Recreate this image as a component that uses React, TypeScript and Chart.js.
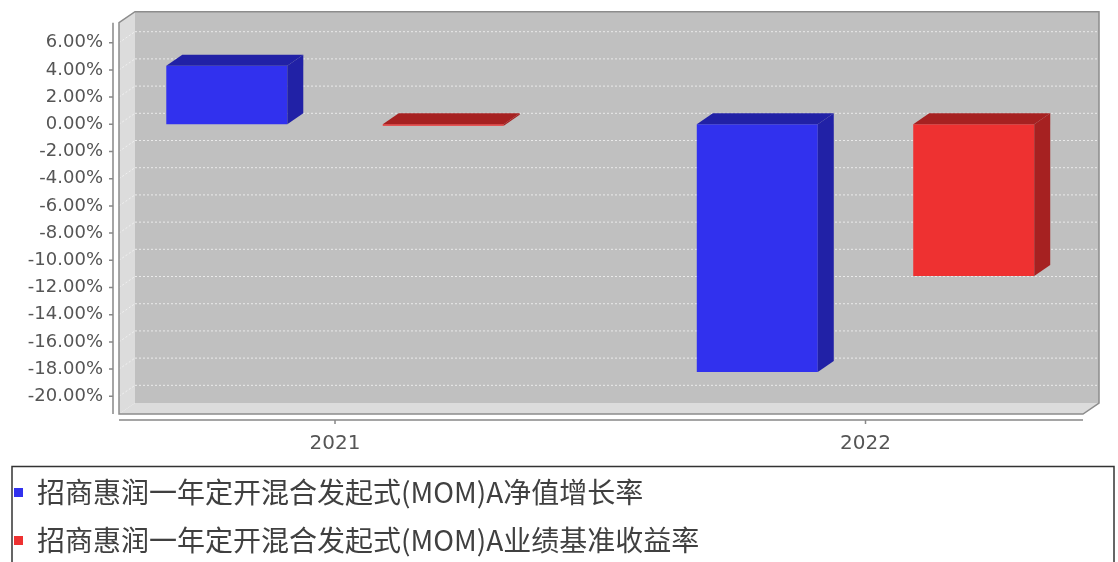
import React, { useEffect, useRef } from 'react';
import { Chart, registerables } from 'chart.js';

Chart.register(...registerables);

// ---- data ----
const categories = ['2021', '2022'];
const navGrowthRate = [4.31, -18.21];
const benchmarkRate = [-0.1, -11.16];
const seriesNames = [
  '招商惠润一年定开混合发起式(MOM)A净值增长率',
  '招商惠润一年定开混合发起式(MOM)A业绩基准收益率',
];
const yTickValues = [-20, -18, -16, -14, -12, -10, -8, -6, -4, -2, 0, 2, 4, 6];

// ---- style ----
const DX = 16;
const DY = 11;
const FRONT_COLORS = ['#3131ee', '#ee3131'];
const SIDE_COLORS = ['#2121a6', '#a62121'];

function poly(ctx: CanvasRenderingContext2D, pts: number[][]) {
  ctx.beginPath();
  ctx.moveTo(pts[0][0], pts[0][1]);
  for (let i = 1; i < pts.length; i++) ctx.lineTo(pts[i][0], pts[i][1]);
  ctx.closePath();
}

const threeDPlugin = {
  id: 'threeD',
  beforeDraw(chart: any) {
    const { ctx } = chart;
    const { left: L, right: R, top: T, bottom: B } = chart.chartArea;
    ctx.save();
    // back wall
    ctx.fillStyle = '#c0c0c0';
    ctx.fillRect(L + DX, T - DY, R - L, B - T);
    // left wall
    ctx.fillStyle = '#dcdcdc';
    poly(ctx, [[L, T], [L + DX, T - DY], [L + DX, B - DY], [L, B]]);
    ctx.fill();
    // floor
    poly(ctx, [[L, B], [L + DX, B - DY], [R + DX, B - DY], [R, B]]);
    ctx.fill();
    // gridlines
    const ys = chart.scales.y;
    ctx.setLineDash([2, 2]);
    ctx.lineWidth = 1;
    ys.ticks.forEach((t: any) => {
      const py = ys.getPixelForValue(t.value);
      ctx.strokeStyle = 'rgba(255,255,255,0.55)';
      ctx.beginPath();
      ctx.moveTo(L, py);
      ctx.lineTo(L + DX, py - DY);
      ctx.stroke();
      ctx.strokeStyle = 'rgba(238,238,238,0.9)';
      ctx.beginPath();
      ctx.moveTo(L + DX, py - DY);
      ctx.lineTo(R + DX, py - DY);
      ctx.stroke();
    });
    ctx.setLineDash([]);
    // outline
    ctx.strokeStyle = '#8c8c8c';
    ctx.lineWidth = 1.5;
    poly(ctx, [[L, T], [L + DX, T - DY], [R + DX, T - DY], [R + DX, B - DY], [R, B], [L, B]]);
    ctx.stroke();
    ctx.restore();
  },
  afterDatasetsDraw(chart: any) {
    const { ctx } = chart;
    ctx.save();
    chart.data.datasets.forEach((ds: any, di: number) => {
      const meta = chart.getDatasetMeta(di);
      meta.data.forEach((el: any) => {
        const { x, y, base, width } = el.getProps(['x', 'y', 'base', 'width'], true);
        const l = x - width / 2;
        const r = x + width / 2;
        const top = Math.min(y, base);
        const bot = Math.max(y, base);
        ctx.fillStyle = ds.sideColor;
        poly(ctx, [[l, top], [l + DX, top - DY], [r + DX, top - DY], [r, top]]);
        ctx.fill();
        poly(ctx, [[r, top], [r + DX, top - DY], [r + DX, bot - DY], [r, bot]]);
        ctx.fill();
      });
    });
    ctx.restore();
  },
  afterDraw(chart: any) {
    const { ctx } = chart;
    const { left: L, right: R, top: T, bottom: B } = chart.chartArea;
    ctx.save();
    ctx.strokeStyle = '#888888';
    ctx.lineWidth = 1.5;
    // y axis line + ticks
    const ax = L - 6;
    ctx.beginPath();
    ctx.moveTo(ax, T);
    ctx.lineTo(ax, B);
    const ys = chart.scales.y;
    ys.ticks.forEach((t: any) => {
      const py = ys.getPixelForValue(t.value);
      ctx.moveTo(ax - 4, py);
      ctx.lineTo(ax, py);
    });
    ctx.stroke();
    // x axis line + ticks
    const ay = B + 6;
    const xs = chart.scales.x;
    ctx.beginPath();
    ctx.moveTo(L, ay);
    ctx.lineTo(R, ay);
    xs.ticks.forEach((t: any) => {
      const px = xs.getPixelForValue(t.value);
      ctx.moveTo(px, ay);
      ctx.lineTo(px, ay + 4);
    });
    ctx.stroke();
    // legend frame
    const lg = chart.legend;
    if (lg) {
      ctx.strokeStyle = '#333333';
      ctx.lineWidth = 1.5;
      ctx.strokeRect(12, lg.top + 8, 1102, 200);
    }
    ctx.restore();
  },
};

export default function App() {
  const canvasRef = useRef<HTMLCanvasElement | null>(null);

  useEffect(() => {
    if (!canvasRef.current) return;
    const chart = new Chart(canvasRef.current, {
      type: 'bar',
      data: {
        datasets: [
          {
            label: seriesNames[0],
            data: categories.map((_, i) => ({ x: i, y: navGrowthRate[i] })),
            backgroundColor: FRONT_COLORS[0],
            borderWidth: 0,
            sideColor: SIDE_COLORS[0],
          } as any,
          {
            label: seriesNames[1],
            data: categories.map((_, i) => ({ x: i, y: benchmarkRate[i] })),
            backgroundColor: FRONT_COLORS[1],
            borderWidth: 0,
            sideColor: SIDE_COLORS[1],
          } as any,
        ],
      },
      options: {
        animation: false,
        responsive: true,
        maintainAspectRatio: false,
        datasets: {
          bar: { categoryPercentage: 0.816, barPercentage: 0.559 },
        } as any,
        layout: { padding: { left: -6, right: 35, top: 22.7, bottom: -2.5 } },
        plugins: {
          tooltip: { enabled: false },
          legend: {
            position: 'bottom',
            align: 'start',
            labels: {
              boxWidth: 9,
              boxHeight: 9,
              padding: 20,
              color: '#404040',
              font: { family: '"Noto Sans CJK SC", sans-serif', size: 28 },
            },
          },
        },
        scales: {
          x: {
            type: 'linear',
            offset: false,
            min: -0.40718,
            max: 1.40998,
            grid: { display: false, drawTicks: false },
            border: { display: false },
            afterBuildTicks: (s: any) => {
              s.ticks = categories.map((_, i) => ({ value: i }));
            },
            afterFit: (s: any) => {
              s.height = 44.5;
            },
            ticks: {
              padding: 18,
              color: '#555555',
              font: { family: '"DejaVu Sans", sans-serif', size: 20 },
              callback: (v: any) => categories[v] ?? '',
            },
          },
          y: {
            min: -21.3,
            max: 7.47,
            grid: { display: false, drawTicks: true, tickLength: 16 },
            border: { display: false },
            afterBuildTicks: (s: any) => {
              s.ticks = yTickValues.map((v) => ({ value: v }));
            },
            afterFit: (s: any) => {
              s.width = 125;
            },
            ticks: {
              padding: 0,
              color: '#555555',
              font: { family: '"DejaVu Sans", sans-serif', size: 18 },
              callback: (v: any) => Number(v).toFixed(2) + '%',
            },
          },
        },
      } as any,
      plugins: [threeDPlugin],
    });
    return () => chart.destroy();
  }, []);

  return (
    <div style={{ position: 'fixed', left: 0, top: 0, width: 1118, height: 562, background: '#fff' }}>
      <canvas ref={canvasRef} />
    </div>
  );
}
